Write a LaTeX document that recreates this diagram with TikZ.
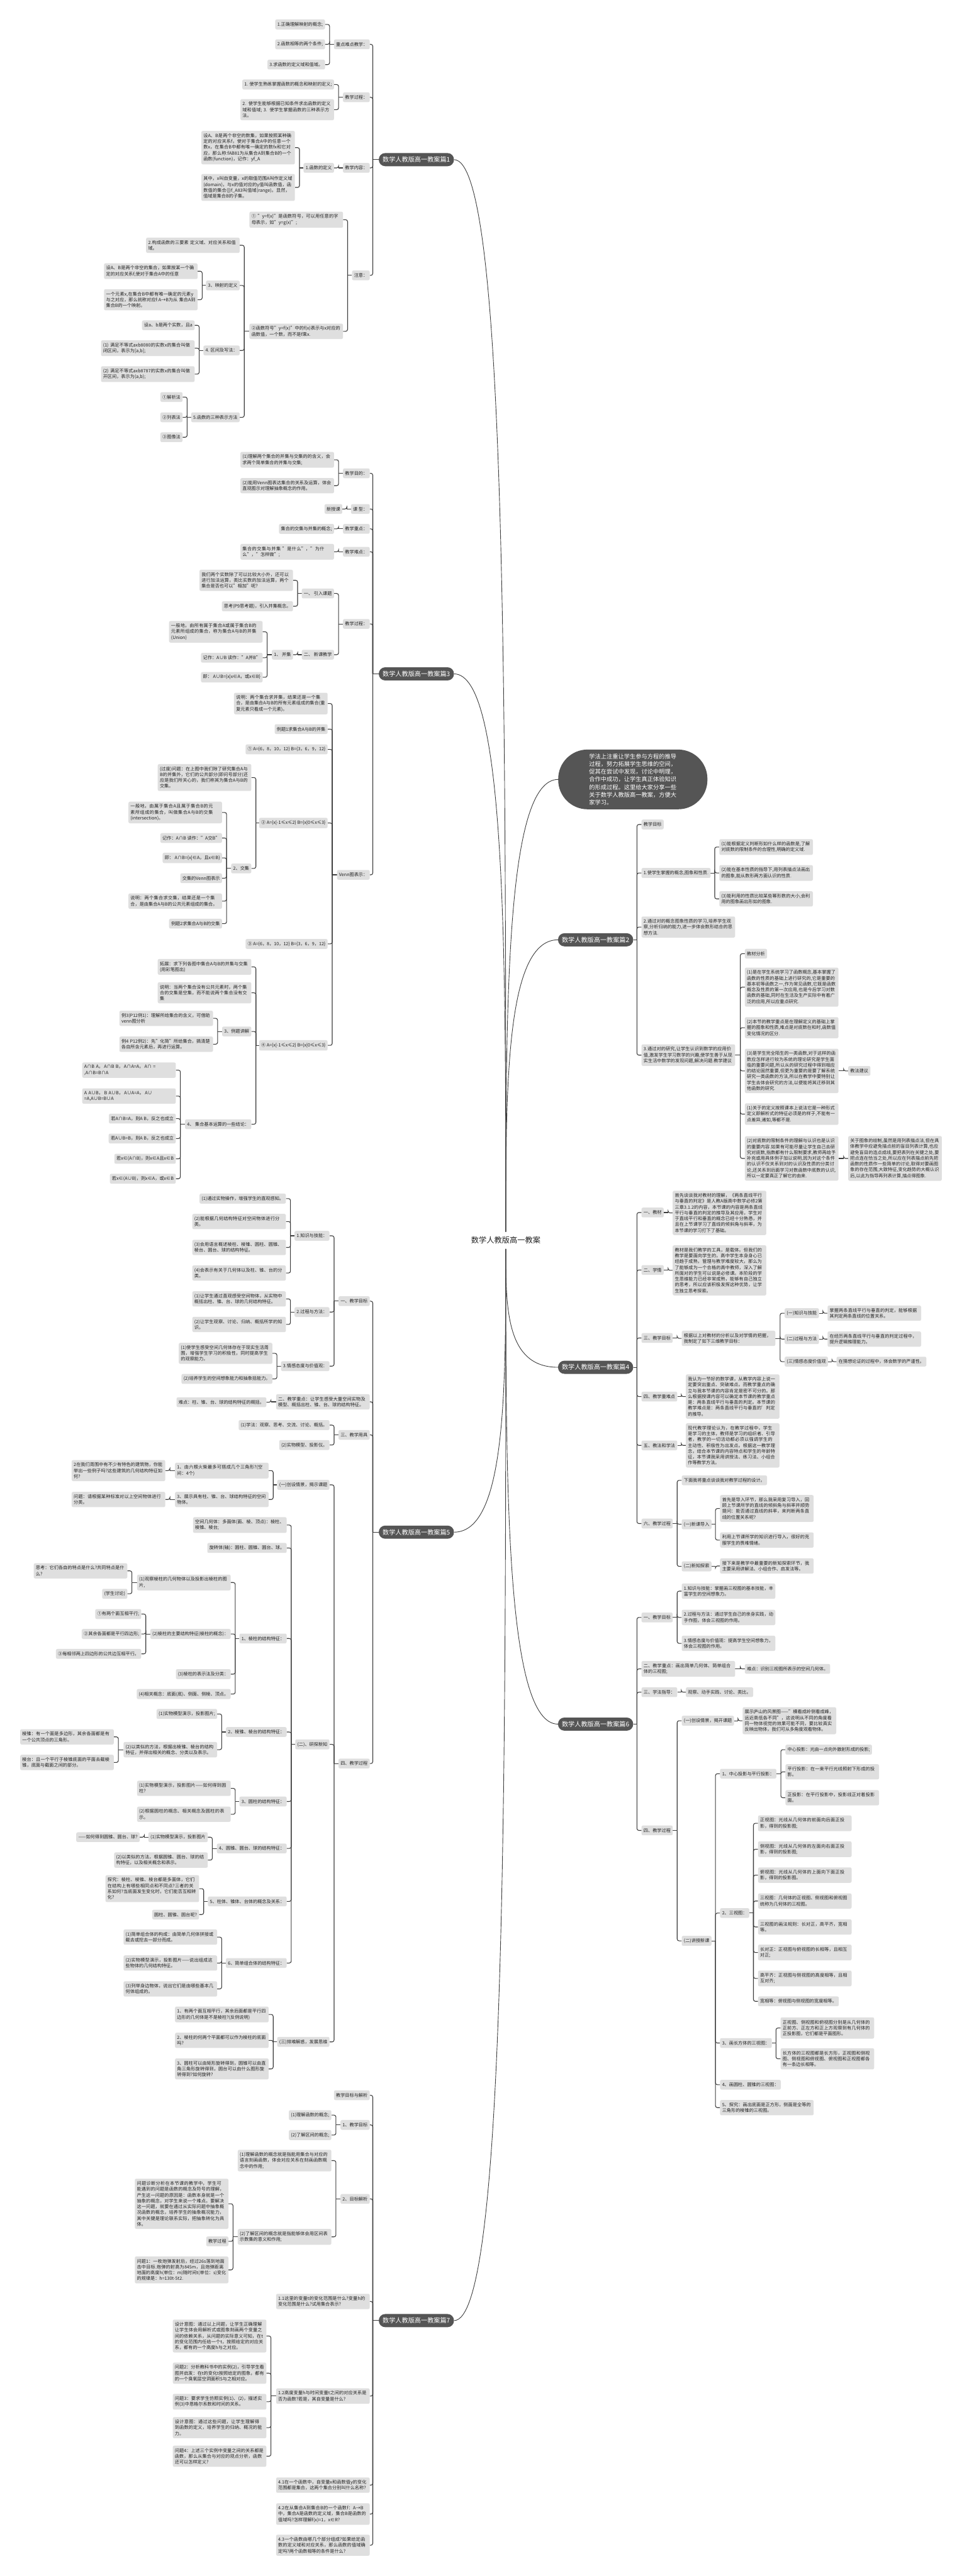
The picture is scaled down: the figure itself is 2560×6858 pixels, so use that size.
\documentclass[tikz,border=0pt]{standalone}
\usepackage{fontspec}
\setmainfont{Noto Sans CJK SC}
\XeTeXlinebreaklocale "zh"
\XeTeXlinebreakskip=0pt plus 1pt
\usetikzlibrary{calc}
\pgfdeclarelayer{bg}
\pgfdeclarelayer{lines}
\pgfsetlayers{bg,lines,main}
\definecolor{boxg}{HTML}{DFDFDF}
\definecolor{brg}{HTML}{555555}
\definecolor{lc}{HTML}{3C3C3C}
\definecolor{tc}{HTML}{222222}
\newcommand\fs{\fontsize{12pt}{15.5pt}\selectfont}
\newcommand\fb{\fontsize{17pt}{20pt}\selectfont}
\newcommand\fr{\fontsize{20.5pt}{24pt}\selectfont}
\newcommand\fbub{\fontsize{15.5pt}{20.5pt}\selectfont}
\tikzset{
  box/.style={fill=boxg, text=tc, rounded corners=4pt, inner xsep=5.5pt, inner ysep=7pt, minimum height=26pt, font=\fs, align=left},
  L/.style={box, anchor=east},
  R/.style={box, anchor=west},
  LW/.style={box, text width=238pt, anchor=east},
  RW/.style={box, text width=238pt, anchor=west},
  br/.style={fill=brg, text=white, rounded corners=17pt, font=\fb, minimum height=35pt, minimum width=200pt, inner xsep=10pt},
  bub/.style={fill=brg, text=white, rounded corners=78pt, font=\fbub, minimum width=397pt, minimum height=159pt, align=left},
  conn/.style={draw=lc, line width=1.8pt},
  curve/.style={draw=lc, line width=1.5pt},
}
\newcommand\LinkL[3][12]{\path ($(#3.east)+(#1,0)$) coordinate (tmpb);
  \draw[conn] (#2.west) -- (tmpb |- #2.west);
  \draw[conn,rounded corners=5pt] (tmpb |- #2.west) |- (#3.east);}
\newcommand\LinkR[3][12]{\path ($(#3.west)+(-#1,0)$) coordinate (tmpb);
  \draw[conn] (#2.east) -- (tmpb |- #2.east);
  \draw[conn,rounded corners=5pt] (tmpb |- #2.east) |- (#3.west);}
\newcommand\KL[2]{\foreach \kk in {#2}{\LinkL{#1}{\kk}}}
\newcommand\KLb[2]{\foreach \kk in {#2}{\LinkL[8]{#1}{\kk}}}
\newcommand\KR[2]{\foreach \kk in {#2}{\LinkR{#1}{\kk}}}
\begin{document}
\begin{tikzpicture}[x=1pt,y=-1pt]
\useasboundingbox (0,0) rectangle (2560,6858);
\begin{pgfonlayer}{bg}
\fill[white] (0,0) rectangle (2560,6858);
\end{pgfonlayer}
% root
\node[font=\fr, text=tc, inner xsep=0pt, inner ysep=13pt] (root) at (1346,3302) {数学人教版高一教案};
% ===== 篇1 =====
\node[br] (b1) at (1108,425) {数学人教版高一教案篇1};
\node[L] (a1) at (984,118) {重点难点教学：};
\node[L] (a1a) at (865,65) {1.正确理解映射的概念;};
\node[L] (a1b) at (865,118) {2.函数相等的两个条件;};
\node[L] (a1c) at (865,172) {3.求函数的定义域和值域。};
\node[L] (a2) at (984,259) {教学过程：};
\node[L] (a2a) at (889,225) {1. 使学生熟练掌握函数的概念和映射的定义;};
\node[LW] (a2b) at (889,292) {2. 使学生能够根据已知条件求出函数的定义域和值域; 3. 使学生掌握函数的三种表示方法。};
\node[L] (a3) at (984,447) {教学内容：};
\node[L] (a3a) at (889,447) {1.函数的定义};
\node[LW] (a3a1) at (785,393) {设A、B是两个非空的数集，如果按照某种确定的对应关系f，使对于集合A中的任意一个数x，在集合B中都有唯一确定的数fx和它对应，那么称:fAB81为从集合A到集合B的一个函数(function)，记作：yf\_A};
\node[LW] (a3a2) at (785,499) {其中，x叫自变量，x的取值范围A叫作定义域(domain)，与x的值对应的y值叫函数值，函数值的集合\{|\}f\_A83叫值域(range)。显然，值域是集合B的子集。};
\node[L] (a4) at (984,733) {注意：};
\node[LW] (a4a) at (913,585) {① "y=f(x)"是函数符号，可以用任意的字母表示，如"y=g(x)";};
\node[LW] (a4b) at (913,882) {②函数符号"y=f(x)"中的f(x)表示与x对应的函数值，一个数，而不是f乘x.};
\node[LW] (p2) at (638,653) {2.构成函数的三要素 定义域、对应关系和值域。};
\node[L] (p3) at (638,760) {3、映射的定义};
\node[LW] (p3a) at (526,722) {设A、B是两个非空的集合，如果按某一个确定的对应关系f,使对于集合A中的任意};
\node[LW] (p3b) at (526,798) {一个元素x,在集合B中都有唯一确定的元素y与之对应，那么就称对应f:A→B为从 集合A到集合B的一个映射。};
\node[L] (p4) at (638,933) {4. 区间及写法：};
\node[L] (p4a) at (518,866) {设a、b是两个实数，且a};
\node[LW] (p4b) at (518,927) {(1) 满足不等式axb8080的实数x的集合叫做闭区间，表示为[a,b];};
\node[LW] (p4c) at (518,996) {(2) 满足不等式axb8787的实数x的集合叫做开区间，表示为(a,b);};
\node[L] (p5) at (638,1111) {5.函数的三种表示方法};
\node[L] (p5a) at (486,1057) {①解析法};
\node[L] (p5b) at (486,1111) {②列表法};
\node[L] (p5c) at (486,1164) {③图像法};
% ===== 篇3 =====
\node[br] (b3) at (1108,1794) {数学人教版高一教案篇3};
\node[L] (c1) at (984,1260) {教学目的：};
\node[LW] (c1a) at (889,1224) {(1)理解两个集合的并集与交集的的含义，会求两个简单集合的并集与交集;};
\node[LW] (c1b) at (889,1293) {(2)能用Venn图表达集合的关系及运算，体会直观图示对理解抽象概念的作用。};
\node[L] (c2) at (984,1355) {课 型：};
\node[L] (c2a) at (911,1355) {新授课};
\node[L] (c3) at (984,1408) {教学重点：};
\node[L] (c3a) at (889,1408) {集合的交集与并集的概念;};
\node[L] (c4) at (984,1469) {教学难点：};
\node[LW] (c4a) at (889,1469) {集合的交集与并集 "是什么"，"为什么"，"怎样做";};
\node[L] (c5) at (984,1661) {教学过程：};
\node[L] (c5a) at (889,1580) {一、 引入课题};
\node[LW] (c5a1) at (780,1545) {我们两个实数除了可以比较大小外，还可以进行加法运算，类比实数的加法运算，两个集合是否也可以"相加"呢?};
\node[L] (c5a2) at (780,1614) {思考(P9思考题)，引入并集概念。};
\node[L] (c5b) at (889,1743) {二、 新课教学};
\node[L] (c5b1) at (780,1743) {1、 并集};
\node[LW] (u1) at (699,1682) {一般地，由所有属于集合A或属于集合B的元素所组成的集合，称为集合A与B的并集(Union)};
\node[L] (u2) at (699,1751) {记作：A∪B 读作："A并B"};
\node[L] (u3) at (699,1803) {即： A∪B=\{x|x∈A，或x∈B\}};
\node[L] (c6) at (984,2329) {Venn图表示：};
\node[LW] (v1) at (872,1873) {说明：两个集合求并集，结果还是一个集合，是由集合A与B的所有元素组成的集合(重复元素只看成一个元素)。};
\node[L] (v1b) at (872,1941) {例题1求集合A与B的并集};
\node[L] (v1c) at (872,1995) {① A=\{6，8，10，12\} B=\{3，6，9，12\}};
\node[L] (v2) at (872,2191) {② A=\{x|-1≤x≤2\} B=\{x|0≤x≤3\}};
\node[LW] (v2a) at (669,2070) {(过度)问题：在上图中我们除了研究集合A与B的并集外，它们的公共部分(即问号部分)还应是我们所关心的，我们称其为集合A与B的交集。};
\node[L] (v2b) at (669,2312) {2、交集};
\node[LW] (w1) at (591,2163) {一般地，由属于集合A且属于集合B的元素所组成的集合，叫做集合A与B的交集(intersection)。};
\node[L] (w2) at (591,2231) {记作：A∩B 读作："A交B"};
\node[L] (w3) at (591,2284) {即： A∩B=\{x|∈A，且x∈B\}};
\node[L] (w4) at (591,2338) {交集的Venn图表示};
\node[LW] (w5) at (591,2399) {说明：两个集合求交集，结果还是一个集合，是由集合A与B的公共元素组成的集合。};
\node[L] (w6) at (591,2459) {例题2求集合A与B的交集};
\node[L] (v3) at (872,2513) {③ A=\{6，8，10，12\} B=\{3，6，9，12\}};
\node[L] (v4) at (872,2783) {④ A=\{x|-1≤x≤2\} B=\{x|0≤x≤3\}};
\node[LW] (x1) at (669,2574) {拓展：求下列各图中集合A与B的并集与交集(用彩笔图出)};
\node[LW] (x2) at (669,2643) {说明：当两个集合没有公共元素时，两个集合的交集是空集，而不能说两个集合没有交集};
\node[L] (x3) at (669,2746) {3、例题讲解};
\node[LW] (x3a) at (567,2711) {例3(P12例1)：理解所给集合的含义，可借助venn图分析};
\node[LW] (x3b) at (567,2780) {例4 P12例2)：先"化简"所给集合，搞清楚各自所含元素后，再进行运算。};
\node[L] (x4) at (669,2993) {4、 集合基本运算的一些结论：};
\node[LW] (y1) at (468,2849) {A∩B A，A∩B B，A∩A=A，A∩ = ,A∩B=B∩A};
\node[LW] (y2) at (468,2918) {A A∪B，B A∪B，A∪A=A，A∪ =A,A∪B=B∪A};
\node[L] (y3) at (468,2978) {若A∩B=A，则A B，反之也成立};
\node[L] (y4) at (468,3031) {若A∪B=B，则A B，反之也成立};
\node[L] (y5) at (468,3085) {若x∈(A∩B)，则x∈A且x∈B};
\node[L] (y6) at (468,3138) {若x∈(A∪B)，则x∈A，或x∈B};
% ===== 篇5 =====
\node[br] (b5) at (1108,4079) {数学人教版高一教案篇5};
\node[L] (e1) at (984,3464) {一、教学目标};
\node[L] (e1a) at (877,3290) {1.知识与技能：};
\node[L] (e1a1) at (761,3191) {(1)通过实物操作，增强学生的直观感知。};
\node[LW] (e1a2) at (761,3252) {(2)能根据几何结构特征对空间物体进行分类。};
\node[LW] (e1a3) at (761,3321) {(3)会用语言概述棱柱、棱锥、圆柱、圆锥、棱台、圆台、球的结构特征。};
\node[LW] (e1a4) at (761,3389) {(4)会表示有关于几何体以及柱、锥、台的分类。};
\node[L] (e1b) at (877,3493) {2.过程与方法：};
\node[LW] (e1b1) at (761,3458) {(1)让学生通过直观感受空间物体，从实物中概括出柱、锥、台、球的几何结构特征。};
\node[LW] (e1b2) at (761,3526) {(2)让学生观察、讨论、归纳、概括所学的知识。};
\node[L] (e1c) at (877,3637) {3.情感态度与价值观：};
\node[LW] (e1c1) at (725,3603) {(1)使学生感受空间几何体存在于现实生活周围，增强学生学习的积极性，同时提高学生的观察能力。};
\node[L] (e1c2) at (725,3671) {(2)培养学生的空间想象能力和抽象括能力。};
\node[LW] (e2) at (984,3732) {二、教学重点：让学生感受大量空间实物及模型、概括出柱、锥、台、球的结构特征。};
\node[L] (e2a) at (709,3733) {难点：柱、锥、台、球的结构特征的概括。};
\node[L] (e3) at (984,3820) {三、教学用具};
\node[L] (e3a) at (877,3794) {(1)学法：观察、思考、交流、讨论、概括。};
\node[L] (e3b) at (877,3847) {(2)实物模型、投影仪。};
\node[L] (e4) at (984,4695) {四、教学过程};
\node[L] (e4a) at (877,3953) {(一)创设情景，揭示课题};
\node[LW] (e4a1) at (715,3915) {1、由六根火柴最多可搭成几个三角形?(空间：4个)};
\node[LW] (e4a1a) at (440,3915) {2在我们周围中有不少有特色的建筑物，你能举出一些例子吗?这些建筑的几何结构特征如何?};
\node[LW] (e4a2) at (715,3992) {3、展示具有柱、锥、台、球结构特征的空间物体。};
\node[LW] (e4a2a) at (440,3992) {问题：请根据某种标准对以上空间物体进行分类。};
\node[L] (e4b) at (877,4644) {(二)、研探新知};
\node[LW] (f0a) at (763,4060) {空间几何体：多面体(面、棱、顶点)：棱柱、棱锥、棱台;};
\node[L] (f0b) at (763,4121) {旋转体(轴)：圆柱、圆锥、圆台、球。};
\node[L] (f1) at (763,4362) {1、棱柱的结构特征：};
\node[LW] (f1a) at (614,4213) {(1)观察棱柱的几何物体以及投影出棱柱的图片,};
\node[LW] (f1a1) at (339,4182) {思考：它们各自的特点是什么?共同特点是什么?};
\node[L] (f1a2) at (339,4243) {(学生讨论)};
\node[L] (f1b) at (614,4350) {(2)棱柱的主要结构特征(棱柱的概念)：};
\node[L] (f1b1) at (376,4297) {①有两个面互相平行;};
\node[L] (f1b2) at (376,4350) {②其余各面都是平行四边形;};
\node[L] (f1b3) at (376,4403) {③每相邻两上四边形的公共边互相平行。};
\node[L] (f1c) at (614,4457) {(3)棱柱的表示法及分类：};
\node[L] (f1d) at (614,4510) {(4)相关概念：底面(底)、侧面、侧棱、顶点。};
\node[L] (f2) at (763,4611) {2、棱锥、棱台的结构特征：};
\node[L] (f2a) at (578,4563) {(1)实物模型演示，投影图片;};
\node[LW] (f2b) at (578,4658) {(2)以类似的方法，根据出棱锥、棱台的结构特征，并得出相关的概念、分类以及表示。};
\node[LW] (f2b1) at (303,4624) {棱锥：有一个面是多边形，其余各面都是有一个公共顶点的三角形。};
\node[LW] (f2b2) at (303,4692) {棱台：且一个平行于棱锥底面的平面去截棱锥，底面与截面之间的部分。};
\node[L] (f3) at (763,4796) {3、圆柱的结构特征：};
\node[LW] (f3a) at (614,4761) {(1)实物模型演示，投影图片——如何得到圆柱?};
\node[LW] (f3b) at (614,4830) {(2)根据圆柱的概念、相关概念及圆柱的表示。};
\node[L] (f4) at (763,4921) {4、圆锥、圆台、球的结构特征：};
\node[L] (f4a) at (553,4891) {(1)实物模型演示，投影图片};
\node[L] (f4a1) at (372,4891) {——如何得到圆锥、圆台、球?};
\node[LW] (f4b) at (553,4952) {(2)以类似的方法，根据圆锥、圆台、球的结构特征，以及相关概念和表示。};
\node[L] (f5) at (763,5062) {5、柱体、锥体、台体的概念及关系：};
\node[LW] (f5a) at (530,5028) {探究：棱柱、棱锥、棱台都是多面体，它们在结构上有哪些相同点和不同点?三者的关系如何?当底面发生变化时，它们能否互相转化?};
\node[L] (f5b) at (530,5097) {圆柱、圆锥、圆台呢?};
\node[L] (f6) at (763,5226) {6、简单组合体的结构特征：};
\node[LW] (f6a) at (578,5157) {(1)简单组合体的构成：由简单几何体拼接或截去或挖去一部分而成。};
\node[LW] (f6b) at (578,5226) {(2)实物模型演示，投影图片——说出组成这些物体的几何结构特征。};
\node[LW] (f6c) at (578,5295) {(3)列举身边物体，说出它们是由哪些基本几何体组成的。};
\node[L] (e4c) at (877,5436) {(三)排难解惑，发展思维};
\node[LW] (e4c1) at (715,5363) {1、有两个面互相平行，其余后面都是平行四边形的几何体是不是棱柱?(反例说明)};
\node[LW] (e4c2) at (715,5432) {2、棱柱的何两个平面都可以作为棱柱的底面吗?};
\node[LW] (e4c3) at (715,5508) {3、圆柱可以由矩形旋转得到，圆锥可以由直角三角形旋转得到，圆台可以由什么图形旋转得到?如何旋转?};
% ===== 篇7 =====
\node[br] (b7) at (1108,6178) {数学人教版高一教案篇7};
\node[L] (g0) at (984,5578) {教学目标与解析};
\node[L] (g1) at (984,5657) {1、教学目标};
\node[L] (g1a) at (882,5631) {(1)理解函数的概念;};
\node[L] (g1b) at (882,5684) {(2)了解区间的概念;};
\node[L] (g2) at (984,5854) {2、目标解析};
\node[LW] (g2a) at (882,5752) {(1)理解函数的概念就是指能用集合与对应的语言刻画函数，体会对应关系在刻画函数概念中的作用;};
\node[LW] (g2b) at (882,5955) {(2)了解区间的概念就是指能够体会用区间表示数集的意义和作用;};
\node[LW] (g2b1) at (608,5867) {问题诊断分析在本节课的教学中，学生可能遇到的问题是函数的概念及符号的理解，产生这一问题的原因是：函数本身就是一个抽象的概念，对学生来说一个难点。要解决这一问题，就要在通过从实际问题中抽象概况函数的概念，培养学生的抽象概况能力，其中关键是理论联系实际，把抽象转化为具体。};
\node[L] (g2b2) at (608,5967) {教学过程};
\node[LW] (g2b3) at (608,6043) {问题1：一枚炮弹发射后，经过26s落到地面击中目标.炮弹的射高为845m，且炮弹距离地面的高度h(单位：m)随时间t(单位：s)变化的规律是：h=130t-5t2.};
\node[LW] (g3) at (984,6127) {1.1这里的变量t的变化范围是什么?变量h的变化范围是什么?试用集合表示?};
\node[LW] (g4) at (984,6379) {1.2高度变量h与时间变量t之间的对应关系是否为函数?若是，其自变量是什么?};
\node[LW] (g4a) at (709,6219) {设计意图：通过以上问题，让学生正确理解让学生体会用解析式或图象刻画两个变量之间的依赖关系，从问题的实际意义可知，在t的变化范围内任给一个t，按照给定的对应关系，都有的一个高度h与之对应。};
\node[LW] (g4b) at (709,6318) {问题2：分析教科书中的实例(2)，引导学生看图并启发：在t的变化t按照给定的图象，都有的一个臭氧层空洞面积S与之相对应。};
\node[LW] (g4c) at (709,6394) {问题3：要求学生仿照实例(1)、(2)，描述实例(3)中恩格尔系数和时间的关系。};
\node[LW] (g4d) at (709,6463) {设计意图：通过这些问题，让学生理解得到函数的定义，培养学生的归纳、概况的能力。};
\node[LW] (g4e) at (709,6539) {问题4：上述三个实例中变量之间的关系都是函数，那么从集合与对应的观点分析，函数还可以怎样定义?};
\node[LW] (g5) at (984,6616) {4.1在一个函数中，自变量x和函数值y的变化范围都是集合，这两个集合分别叫什么名称?};
\node[LW] (g6) at (984,6693) {4.2在从集合A到集合B的一个函数f：A→B中，集合A是函数的定义域，集合B是函数的值域吗?怎样理解f(x)=1，x∈R?};
\node[LW] (g7) at (984,6776) {4.3一个函数由哪几个部分组成?如果给定函数的定义域和对应关系，那么函数的值域确定吗?两个函数相等的条件是什么?};
% ===== bubble =====
\node[bub] (bub) at (1684,2075) {学法上注重让学生参与方程的推导\\过程，努力拓展学生思维的空间，\\促其在尝试中发现，讨论中明理，\\合作中成功，让学生真正体验知识\\的形成过程。这里给大家分享一些\\关于数学人教版高一教案，方便大\\家学习。};
% ===== 篇2 =====
\node[br] (b2) at (1585,2502) {数学人教版高一教案篇2};
\node[R] (h0) at (1707,2195) {教学目标};
\node[R] (h1) at (1707,2324) {1.使学生掌握的概念,图象和性质.};
\node[RW] (h1a) at (1914,2255) {(1)能根据定义判断形如什么样的函数是,了解对底数的限制条件的合理性,明确的定义域.};
\node[RW] (h1b) at (1914,2324) {(2)能在基本性质的指导下,用列表描点法画出的图象,能从数形两方面认识的性质.};
\node[RW] (h1c) at (1914,2393) {(3)能利用的性质比较某些幂形数的大小,会利用的图象画出形如的图象.};
\node[RW] (h2) at (1707,2468) {2.通过对的概念图象性质的学习,培养学生观察,分析归纳的能力,进一步体会数形结合的思想方法.};
\node[RW] (h3) at (1707,2809) {3.通过对的研究,让学生认识到数学的应用价值,激发学生学习数学的兴趣,使学生善于从现实生活中数学的发现问题,解决问题.教学建议};
\node[R] (h3a) at (1982,2539) {教材分析};
\node[RW] (h3b) at (1982,2628) {(1)是在学生系统学习了函数概念,基本掌握了函数的性质的基础上进行研究的,它是重要的基本初等函数之一,作为常见函数,它既是函数概念及性质的第一次应用,也是今后学习对数函数的基础,同时在生活及生产实际中有着广泛的应用,所以应重点研究.};
\node[RW] (h3c) at (1982,2736) {(2)本节的教学重点是在理解定义的基础上掌握的图象和性质,难点是对底数在和时,函数值变化情况的区分.};
\node[RW] (h3d) at (1982,2851) {(3)是学生完全陌生的一类函数,对于这样的函数应怎样进行较为系统的理论研究是学生面临的重要问题,所以从的研究过程中得到相应的结论固然重要,但更为重要的是要了解系统研究一类函数的方法,所以在教学中要特别让学生去体会研究的方法,以便能将其迁移到其他函数的研究.};
\node[R] (h3d1) at (2257,2851) {教法建议};
\node[RW] (h3e) at (1982,2966) {(1)关于的定义按照课本上说法它是一种形式定义即解析式的特征必须是的样子,不能有一点差异,诸如,等都不是.};
\node[RW] (h3f) at (1982,3084) {(2)对底数的限制条件的理解与认识也是认识的重要内容.如果有可能尽量让学生自己去研究对底数,指数都有什么限制要求,教师再给予补充或用具体例子加以说明,因为对这个条件的认识不仅关系到对的认识及性质的分类讨论,还关系到后面学习对数函数中底数的认识,所以一定要真正了解它的由来.};
\node[RW] (h3f1) at (2257,3084) {关于图象的绘制,虽然是用列表描点法,但在具体教学中应避免描点前的盲目列表计算,也应避免盲目的连点成线,要把表列在关键之处,要把点连在恰当之处,所以应在列表描点前先把函数的性质作一些简单的讨论,取得对要画图象的存在范围,大致特征,变化趋势的大概认识后,以此为指导再列表计算,描点得图象.};
% ===== 篇4 =====
\node[br] (b4) at (1585,3640) {数学人教版高一教案篇4};
\node[R] (k1) at (1707,3228) {一、教材};
\node[RW] (k1a) at (1790,3229) {首先谈谈我对教材的理解，《两条直线平行与垂直的判定》是人教A版高中数学必修2第三章3.1.2的内容，本节课的内容是两条直线平行与垂直的判定的推导及其应用，学生对于直线平行和垂直的概念已经十分熟悉，并且在上节课学习了直线的倾斜角与斜率，为本节课的学习打下了基础。};
\node[R] (k2) at (1707,3381) {二、学情};
\node[RW] (k2a) at (1790,3382) {教材是我们教学的工具，是载体。但我们的教学是要面向学生的，高中学生本身身心已经趋于成熟，管理与教学难度较大，那么为了能够成为一个合格的高中教师，深入了解所面对的学生可以说是必修课。本阶段的学生思维能力已经非常成熟，能够有自己独立的思考，所以应该积极发挥这种优势，让学生独立思考探索。};
\node[R] (k3) at (1707,3562) {三、教学目标};
\node[RW] (k3a) at (1814,3563) {根据以上对教材的分析以及对学情的把握，我制定了如下三维教学目标：};
\node[R] (k3a1) at (2088,3496) {(一)知识与技能};
\node[RW] (k3a1a) at (2202,3496) {掌握两条直线平行与垂直的判定，能够根据其判定两条直线的位置关系。};
\node[R] (k3a2) at (2088,3565) {(二)过程与方法};
\node[RW] (k3a2a) at (2202,3565) {在经历两条直线平行与垂直的判定过程中，提升逻辑推理能力。};
\node[R] (k3a3) at (2088,3625) {(三)情感态度价值观};
\node[R] (k3a3a) at (2226,3625) {在猜想论证的过程中，体会数学的严谨性。};
\node[R] (k4) at (1707,3718) {四、教学重难点};
\node[RW] (k4a) at (1825,3718) {我认为一节好的数学课，从教学内容上说一定要突出重点、突破难点。而教学重点的确立与我本节课的内容肯定是密不可分的。那么根据授课内容可以确定本节课的教学重点是：两条直线平行与垂直的判定。本节课的教学难点是：两条直线平行与垂直的'判定的推导。};
\node[R] (k5) at (1707,3848) {五、教法和学法};
\node[RW] (k5a) at (1825,3848) {现代教学理论认为，在教学过程中，学生是学习的主体，教师是学习的组织者、引导者，教学的一切活动都必须以强调学生的主动性、积极性为出发点。根据这一教学理念，结合本节课的内容特点和学生的年龄特征，本节课我采用讲授法、练习法、小组合作等教学方法。};
\node[R] (k6) at (1707,4056) {六、教学过程};
\node[R] (k6a) at (1814,3941) {下面我将重点谈谈我对教学过程的设计。};
\node[R] (k6b) at (1814,4058) {(一)新课导入};
\node[RW] (k6b1) at (1916,4016) {首先是导入环节，那么我采用复习导入，回顾上节课所学的直线的倾斜角与斜率并顺势提问：能否通过直线的斜率，来判断两条直线的位置关系呢?};
\node[RW] (k6b2) at (1916,4100) {利用上节课所学的知识进行导入，很好的克服学生的畏难情绪。};
\node[R] (k6c) at (1814,4170) {(二)新知探索};
\node[RW] (k6c1) at (1916,4169) {接下来是教学中最重要的新知探索环节，我主要采用讲解法、小组合作、启发法等。};
% ===== 篇6 =====
\node[br] (b6) at (1585,4590) {数学人教版高一教案篇6};
\node[R] (m1) at (1707,4306) {一、教学目标};
\node[RW] (m1a) at (1814,4236) {1.知识与技能：掌握画三视图的基本技能，丰富学生的空间想象力。};
\node[RW] (m1b) at (1814,4306) {2.过程与方法：通过学生自己的亲身实践，动手作图，体会三视图的作用。};
\node[RW] (m1c) at (1814,4375) {3.情感态度与价值观：提高学生空间想象力，体会三视图的作用。};
\node[RW] (m2) at (1707,4443) {二、教学重点：画出简单几何体、简单组合体的三视图;};
\node[R] (m2a) at (1982,4443) {难点：识别三视图所表示的空间几何体。};
\node[R] (m3) at (1707,4505) {三、学法指导：};
\node[R] (m3a) at (1825,4505) {观察、动手实践、讨论、类比。};
\node[R] (m4) at (1707,4873) {四、教学过程};
\node[R] (m4a) at (1814,4581) {(一)创设情景，揭开课题};
\node[RW] (m4a1) at (1976,4581) {展示庐山的风景图——"横看成岭侧看成峰，远近高低各不同"，这说明从不同的角度看同一物体视觉的效果可能不同，要比较真实反映出物体，我们可从多角度观看物体。};
\node[R] (m4b) at (1814,5167) {(二)讲授新课};
\node[R] (n1) at (1916,4722) {1、中心投影与平行投影：};
\node[R] (n1a) at (2090,4658) {中心投影：光由一点向外散射形成的投影;};
\node[RW] (n1b) at (2090,4717) {平行投影：在一束平行光线照射下形成的投影。};
\node[RW] (n1c) at (2090,4786) {正投影：在平行投影中，投影线正对着投影面。};
\node[R] (n2) at (1916,5093) {2、三视图：};
\node[RW] (n2a) at (2017,4854) {正视图：光线从几何体的前面向后面正投影，得到的投影图;};
\node[RW] (n2b) at (2017,4923) {侧视图：光线从几何体的左面向右面正投影，得到的投影图;};
\node[RW] (n2c) at (2017,4992) {俯视图：光线从几何体的上面向下面正投影，得到的投影图。};
\node[RW] (n2d) at (2017,5061) {三视图：几何体的正视图、侧视图和俯视图统称为几何体的三视图。};
\node[RW] (n2e) at (2017,5130) {三视图的画法规则：长对正，高平齐，宽相等。};
\node[RW] (n2f) at (2017,5198) {长对正：正视图与俯视图的长相等，且相互对正;};
\node[RW] (n2g) at (2017,5267) {高平齐：正视图与侧视图的高度相等，且相互对齐;};
\node[R] (n2h) at (2017,5328) {宽相等：俯视图与侧视图的宽度相等。};
\node[R] (n3) at (1916,5439) {3、画长方体的三视图：};
\node[RW] (n3a) at (2077,5399) {正视图、侧视图和俯视图分别是从几何体的正前方、正左方和正上方观察到有几何体的正投影图，它们都是平面图形。};
\node[RW] (n3b) at (2077,5481) {长方体的三视图都是长方形，正视图和侧视图、侧视图和俯视图、俯视图和正视图都各有一条边长相等。};
\node[R] (n4) at (1916,5550) {4、画圆柱、圆锥的三视图：};
\node[RW] (n5) at (1916,5611) {5、探究：画出底面是正方形，侧面是全等的三角形的棱锥的三视图。};
% ===== connectors =====
\begin{pgfonlayer}{lines}
\draw[curve] (root.north) .. controls (1346,1851) and (1346,425) .. (b1.east);
\draw[curve] (root.north) .. controls (1346,2535) and (1346,1794) .. (b3.east);
\draw[curve] (root.north) .. controls (1346,2676) and (1346,2075) .. (bub.west);
\draw[curve] (root.north) .. controls (1346,2890) and (1346,2502) .. (b2.west);
\draw[curve] (root.south) .. controls (1346,3482) and (1346,3640) .. (b4.west);
\draw[curve] (root.south) .. controls (1346,3702) and (1346,4079) .. (b5.east);
\draw[curve] (root.south) .. controls (1346,3957) and (1346,4590) .. (b6.west);
\draw[curve] (root.south) .. controls (1346,4751) and (1346,6178) .. (b7.east);
% 篇1
\KLb{b1}{a1,a2,a3,a4}
\KL{a1}{a1a,a1b,a1c}
\KL{a2}{a2a,a2b}
\KL{a3}{a3a}
\KL{a3a}{a3a1,a3a2}
\KL{a4}{a4a,a4b}
\KL{a4b}{p2,p3,p4,p5}
\KL{p3}{p3a,p3b}
\KL{p4}{p4a,p4b,p4c}
\KL{p5}{p5a,p5b,p5c}
% 篇3
\KLb{b3}{c1,c2,c3,c4,c5,c6}
\KL{c1}{c1a,c1b}
\KL{c2}{c2a}
\KL{c3}{c3a}
\KL{c4}{c4a}
\KL{c5}{c5a,c5b}
\KL{c5a}{c5a1,c5a2}
\KL{c5b}{c5b1}
\KL{c5b1}{u1,u2,u3}
\KL{c6}{v1,v1b,v1c,v2,v3,v4}
\KL{v2}{v2a,v2b}
\KL{v2b}{w1,w2,w3,w4,w5,w6}
\KL{v4}{x1,x2,x3,x4}
\KL{x3}{x3a,x3b}
\KL{x4}{y1,y2,y3,y4,y5,y6}
% 篇5
\KLb{b5}{e1,e2,e3,e4}
\KL{e1}{e1a,e1b,e1c}
\KL{e1a}{e1a1,e1a2,e1a3,e1a4}
\KL{e1b}{e1b1,e1b2}
\KL{e1c}{e1c1,e1c2}
\KL{e2}{e2a}
\KL{e3}{e3a,e3b}
\KL{e4}{e4a,e4b,e4c}
\KL{e4a}{e4a1,e4a2}
\KL{e4a1}{e4a1a}
\KL{e4a2}{e4a2a}
\KL{e4b}{f0a,f0b,f1,f2,f3,f4,f5,f6}
\KL{f1}{f1a,f1b,f1c,f1d}
\KL{f1a}{f1a1,f1a2}
\KL{f1b}{f1b1,f1b2,f1b3}
\KL{f2}{f2a,f2b}
\KL{f2b}{f2b1,f2b2}
\KL{f3}{f3a,f3b}
\KL{f4}{f4a,f4b}
\KL{f4a}{f4a1}
\KL{f5}{f5a,f5b}
\KL{f6}{f6a,f6b,f6c}
\KL{e4c}{e4c1,e4c2,e4c3}
% 篇7
\KLb{b7}{g0,g1,g2,g3,g4,g5,g6,g7}
\KL{g1}{g1a,g1b}
\KL{g2}{g2a,g2b}
\KL{g2b}{g2b1,g2b2,g2b3}
\KL{g4}{g4a,g4b,g4c,g4d,g4e}
% 篇2
\KR{b2}{h0,h1,h2,h3}
\KR{h1}{h1a,h1b,h1c}
\KR{h3}{h3a,h3b,h3c,h3d,h3e,h3f}
\KR{h3d}{h3d1}
\KR{h3f}{h3f1}
% 篇4
\KR{b4}{k1,k2,k3,k4,k5,k6}
\KR{k1}{k1a}
\KR{k2}{k2a}
\KR{k3}{k3a}
\KR{k3a}{k3a1,k3a2,k3a3}
\KR{k3a1}{k3a1a}
\KR{k3a2}{k3a2a}
\KR{k3a3}{k3a3a}
\KR{k4}{k4a}
\KR{k5}{k5a}
\KR{k6}{k6a,k6b,k6c}
\KR{k6b}{k6b1,k6b2}
\KR{k6c}{k6c1}
% 篇6
\KR{b6}{m1,m2,m3,m4}
\KR{m1}{m1a,m1b,m1c}
\KR{m2}{m2a}
\KR{m3}{m3a}
\KR{m4}{m4a,m4b}
\KR{m4a}{m4a1}
\KR{m4b}{n1,n2,n3,n4,n5}
\KR{n1}{n1a,n1b,n1c}
\KR{n2}{n2a,n2b,n2c,n2d,n2e,n2f,n2g,n2h}
\KR{n3}{n3a,n3b}
\end{pgfonlayer}
\end{tikzpicture}
\end{document}
